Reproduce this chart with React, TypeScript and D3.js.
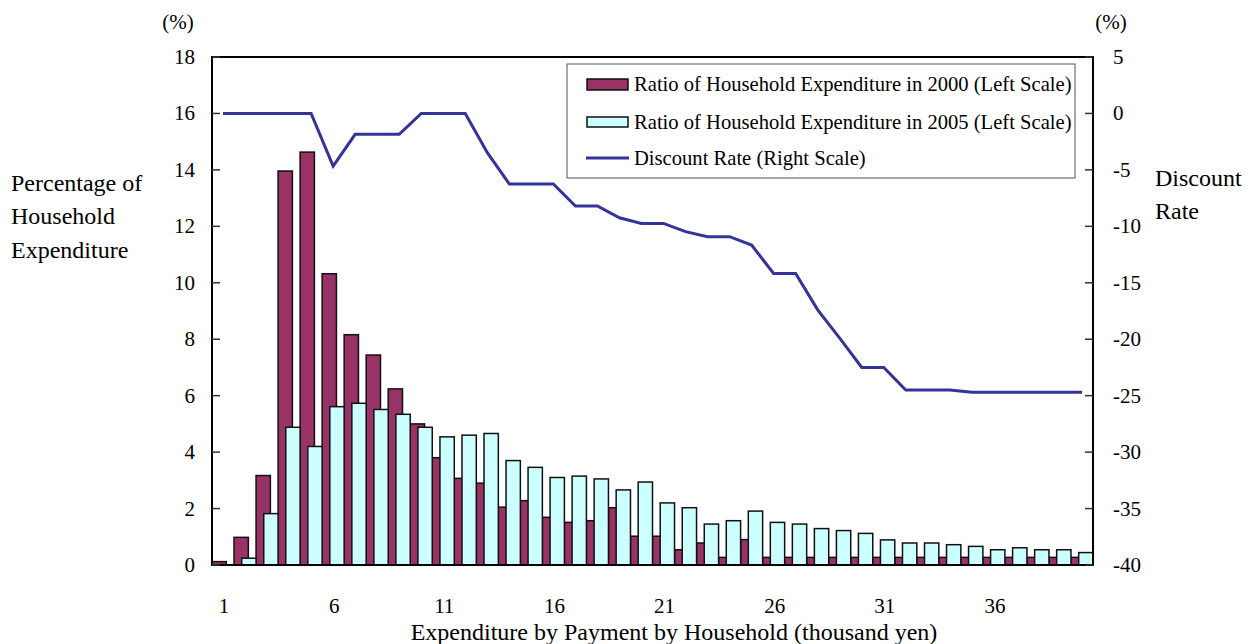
import React from 'react';
import * as d3 from 'd3';

// expenditure by payment (thousand yen)
const categories = [
  1, 2, 3, 4, 5, 6, 7, 8, 9, 10, 11, 12, 13, 14, 15, 16, 17, 18, 19, 20,
  21, 22, 23, 24, 25, 26, 27, 28, 29, 30, 31, 32, 33, 34, 35, 36, 37, 38, 39, 40,
];
const ratio2000 = [
  0.12, 0.98, 3.17, 13.96, 14.63, 10.32, 8.16, 7.44, 6.24, 5.0,
  3.8, 3.07, 2.9, 2.05, 2.28, 1.69, 1.51, 1.57, 2.03, 1.02,
  1.02, 0.54, 0.78, 0.27, 0.9, 0.27, 0.27, 0.27, 0.27, 0.27,
  0.27, 0.27, 0.27, 0.27, 0.27, 0.27, 0.27, 0.27, 0.27, 0.27,
];
const ratio2005 = [
  0, 0.24, 1.82, 4.88, 4.2, 5.61, 5.73, 5.51, 5.34, 4.88,
  4.54, 4.6, 4.66, 3.7, 3.46, 3.1, 3.15, 3.05, 2.66, 2.94,
  2.2, 2.03, 1.45, 1.57, 1.91, 1.51, 1.45, 1.29, 1.22, 1.12,
  0.89, 0.78, 0.78, 0.72, 0.66, 0.54, 0.61, 0.54, 0.54, 0.44,
];
const discountRate = [
  0, 0, 0, 0, 0, -4.66, -1.85, -1.85, -1.85, 0,
  0, 0, -3.48, -6.25, -6.25, -6.25, -8.2, -8.2, -9.24, -9.74,
  -9.74, -10.47, -10.92, -10.92, -11.66, -14.17, -14.17, -17.4, -19.9, -22.5,
  -22.5, -24.5, -24.5, -24.5, -24.7, -24.7, -24.7, -24.7, -24.7, -24.7,
];
const leftTicks = [0, 2, 4, 6, 8, 10, 12, 14, 16, 18];
const rightTicks = [5, 0, -5, -10, -15, -20, -25, -30, -35, -40];
const xTickLabels = [1, 6, 11, 16, 21, 26, 31, 36];
const legendLabels = [
  'Ratio of Household Expenditure in 2000 (Left Scale)',
  'Ratio of Household Expenditure in 2005 (Left Scale)',
  'Discount Rate (Right Scale)',
];

const FONT = '"Liberation Serif", "Times New Roman", serif';
const MAROON = '#993366';
const CYAN = '#CCFFFF';
const NAVY = '#333399';

export default function App() {
  const width = 1249;
  const height = 644;
  const left = 212;
  const right = 1093;
  const top = 57;
  const bottom = 565;

  const x = d3.scaleBand<number>().domain(categories).range([left, right]).padding(0);
  const yL = d3.scaleLinear().domain([0, 18]).range([bottom, top]);
  const yR = d3.scaleLinear().domain([-40, 5]).range([bottom, top]);
  const bw = x.bandwidth();
  const barW = bw * 0.65;

  const line = d3
    .line<number>()
    .x((_, i) => (x(categories[i]) as number) + bw / 2)
    .y((d) => yR(d));

  return (
    <svg
      width={width}
      height={height}
      style={{ position: 'absolute', left: 0, top: 0, background: '#fff' }}
      fontFamily={FONT}
    >
      {/* bars 2000 */}
      {ratio2000.map((v, i) => (
        <rect
          key={'a' + i}
          x={x(categories[i]) as number}
          y={yL(v)}
          width={barW}
          height={yL(0) - yL(v)}
          fill={MAROON}
          stroke="#111"
          strokeWidth={1.5}
        />
      ))}
      {/* bars 2005 */}
      {ratio2005.map((v, i) =>
        v > 0 ? (
          <rect
            key={'b' + i}
            x={(x(categories[i]) as number) + bw - barW}
            y={yL(v)}
            width={barW}
            height={yL(0) - yL(v)}
            fill={CYAN}
            stroke="#111"
            strokeWidth={1.5}
          />
        ) : null
      )}

      {/* discount rate */}
      <path d={line(discountRate) || ''} fill="none" stroke={NAVY} strokeWidth={3} strokeLinejoin="miter" />

      {/* frame */}
      <rect x={left} y={top} width={right - left} height={bottom - top} fill="none" stroke="#000" strokeWidth={2} />

      {/* left ticks */}
      {leftTicks.map((t) => (
        <g key={'l' + t}>
          <line x1={left} x2={left + 8} y1={yL(t)} y2={yL(t)} stroke="#333" strokeWidth={1.5} />
          <text x={195} y={yL(t)} textAnchor="end" dominantBaseline="central" fontSize={21}>
            {t}
          </text>
        </g>
      ))}
      {/* right ticks */}
      {rightTicks.map((t) => (
        <g key={'r' + t}>
          <line x1={right - 8} x2={right} y1={yR(t)} y2={yR(t)} stroke="#333" strokeWidth={1.5} />
          <text x={1113} y={yR(t)} textAnchor="start" dominantBaseline="central" fontSize={21}>
            {t}
          </text>
        </g>
      ))}
      {/* x tick labels */}
      {xTickLabels.map((c) => (
        <text
          key={'x' + c}
          x={(x(c) as number) + bw / 2 + 1}
          y={606}
          textAnchor="middle"
          dominantBaseline="central"
          fontSize={21}
        >
          {c}
        </text>
      ))}

      {/* units */}
      <text x={178} y={22} textAnchor="middle" dominantBaseline="central" fontSize={21}>(%)</text>
      <text x={1111} y={22} textAnchor="middle" dominantBaseline="central" fontSize={21}>(%)</text>

      {/* axis titles */}
      <text fontSize={24}>
        <tspan x={11} y={191}>Percentage of</tspan>
        <tspan x={11} y={224}>Household</tspan>
        <tspan x={11} y={258}>Expenditure</tspan>
      </text>
      <text fontSize={24}>
        <tspan x={1155} y={186}>Discount</tspan>
        <tspan x={1155} y={219}>Rate</tspan>
      </text>
      <text x={674} y={632} textAnchor="middle" dominantBaseline="central" fontSize={24}>
        Expenditure by Payment by Household (thousand yen)
      </text>

      {/* legend */}
      <rect x={567} y={64} width={508} height={114} fill="#fff" stroke="#555" strokeWidth={1} />
      <rect x={587} y={79} width={41} height={11} fill={MAROON} stroke="#111" strokeWidth={1.5} />
      <rect x={587} y={117} width={41} height={10} fill={CYAN} stroke="#111" strokeWidth={1.5} />
      <line x1={586} x2={629} y1={158} y2={158} stroke={NAVY} strokeWidth={3} />
      {legendLabels.map((l, i) => (
        <text key={l} x={634} y={[84, 122, 158][i]} dominantBaseline="central" fontSize={20.6}>
          {l}
        </text>
      ))}
    </svg>
  );
}
